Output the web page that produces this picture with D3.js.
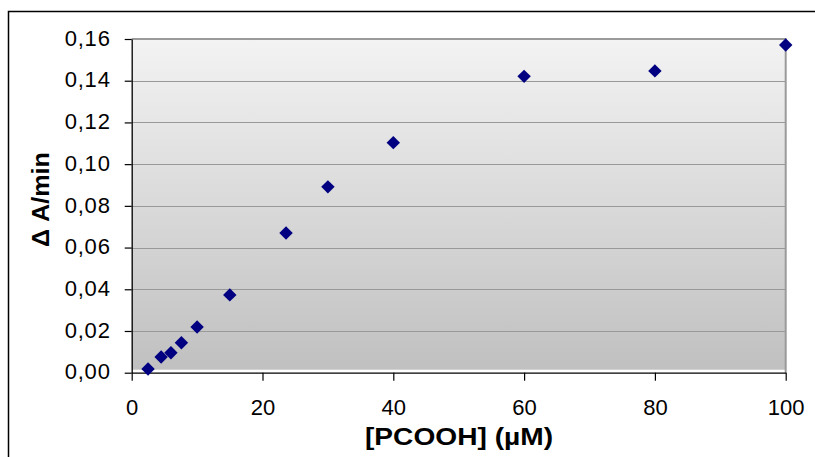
<!DOCTYPE html>
<html><head><meta charset="utf-8">
<script src="https://cdn.jsdelivr.net/npm/d3@7"></script>
<style>body{margin:0;background:#fff}svg{display:block}</style>
</head><body>
<script>
const concentrations = [2.5, 4.5, 6, 7.6, 10, 15, 23.6, 30, 40, 60, 80, 100];
const rates = [0.0018, 0.0075, 0.0096, 0.0144, 0.0219, 0.0373, 0.0670, 0.0891, 0.1103, 0.1421, 0.1447, 0.1571];
const xTicks = [0, 20, 40, 60, 80, 100];
const yTicks = [0, 0.02, 0.04, 0.06, 0.08, 0.10, 0.12, 0.14, 0.16];
const xTitle = "[PCOOH] (µM)";
const yTitle = "Δ A/min";

(function () {
const W = 815, H = 457;
const FONT = "Liberation Sans, Arial, sans-serif";
const svg = d3.select("body").append("svg").attr("width", W).attr("height", H);
const pLeft = 131.7, pRight = 785.7, pTop = 39, pBottom = 372.7;
const x = d3.scaleLinear().domain([0, 100]).range([pLeft, pRight]);
const y = d3.scaleLinear().domain([0, 0.16]).range([pBottom, pTop]);

// outer chart border
svg.append("rect").attr("x", 8.5).attr("y", 11.5).attr("width", 900).attr("height", 600)
  .attr("fill", "none").attr("stroke", "#000").attr("stroke-width", 1.5);

const defs = svg.append("defs");
const g = defs.append("linearGradient").attr("id", "bg").attr("x1", 0).attr("y1", 0).attr("x2", 0).attr("y2", 1);
g.append("stop").attr("offset", 0).attr("stop-color", "#f3f3f3");
g.append("stop").attr("offset", 1).attr("stop-color", "#c0c0c0");

svg.append("rect").attr("x", pLeft).attr("y", pTop).attr("width", pRight - pLeft).attr("height", pBottom - 3 - pTop)
  .attr("fill", "url(#bg)");

// gridlines
svg.append("g").selectAll("line").data(yTicks.filter(d => d > 0)).join("line")
  .attr("x1", pLeft).attr("x2", pRight).attr("y1", d => Math.round(y(d)) + 0.5).attr("y2", d => Math.round(y(d)) + 0.5)
  .attr("stroke", "#999").attr("stroke-width", 1);

// plot border top & right
svg.append("path").attr("d", `M${pLeft},${pTop} H${pRight} V${pBottom}`)
  .attr("fill", "none").attr("stroke", "#9a9a9a").attr("stroke-width", 2);

// axes
const fmt = d => d3.format(".2f")(d).replace(".", ",");
const yAxis = svg.append("g").attr("transform", `translate(${pLeft},0)`)
  .call(d3.axisLeft(y).tickValues(yTicks).tickFormat(fmt).tickSizeInner(7).tickSizeOuter(0).tickPadding(14));
const xAxis = svg.append("g").attr("transform", `translate(0,${pBottom})`)
  .call(d3.axisBottom(x).tickValues(xTicks).tickSizeInner(8).tickSizeOuter(0).tickPadding(19));
[yAxis, xAxis].forEach(a => {
  a.selectAll("path").attr("stroke", "#000").attr("stroke-width", 1.3);
  a.selectAll("line").attr("stroke", "#000").attr("stroke-width", 1.2);
  a.selectAll("text").attr("font-family", FONT).attr("font-size", 22).attr("fill", "#000");
});
yAxis.selectAll("text").attr("dy", "0.28em").attr("letter-spacing", 0.8);

// points
svg.append("g").selectAll("path").data(concentrations.map((c, i) => [c, rates[i]])).join("path")
  .attr("d", d3.symbol().type(d3.symbolSquare).size(90))
  .attr("transform", d => `translate(${x(d[0])},${y(d[1])}) rotate(45)`)
  .attr("fill", "#000080");

// titles
svg.append("text").attr("x", 365).attr("y", 445)
  .attr("font-family", FONT).attr("font-size", 24.5).attr("font-weight", "bold")
  .attr("textLength", 188).attr("lengthAdjust", "spacingAndGlyphs")
  .text(xTitle);
svg.append("text").attr("transform", `translate(48.5,247) rotate(-90)`)
  .attr("font-family", FONT).attr("font-size", 24.5).attr("font-weight", "bold")
  .attr("textLength", 95).attr("lengthAdjust", "spacingAndGlyphs")
  .text(yTitle);
})();
</script>
</body></html>
